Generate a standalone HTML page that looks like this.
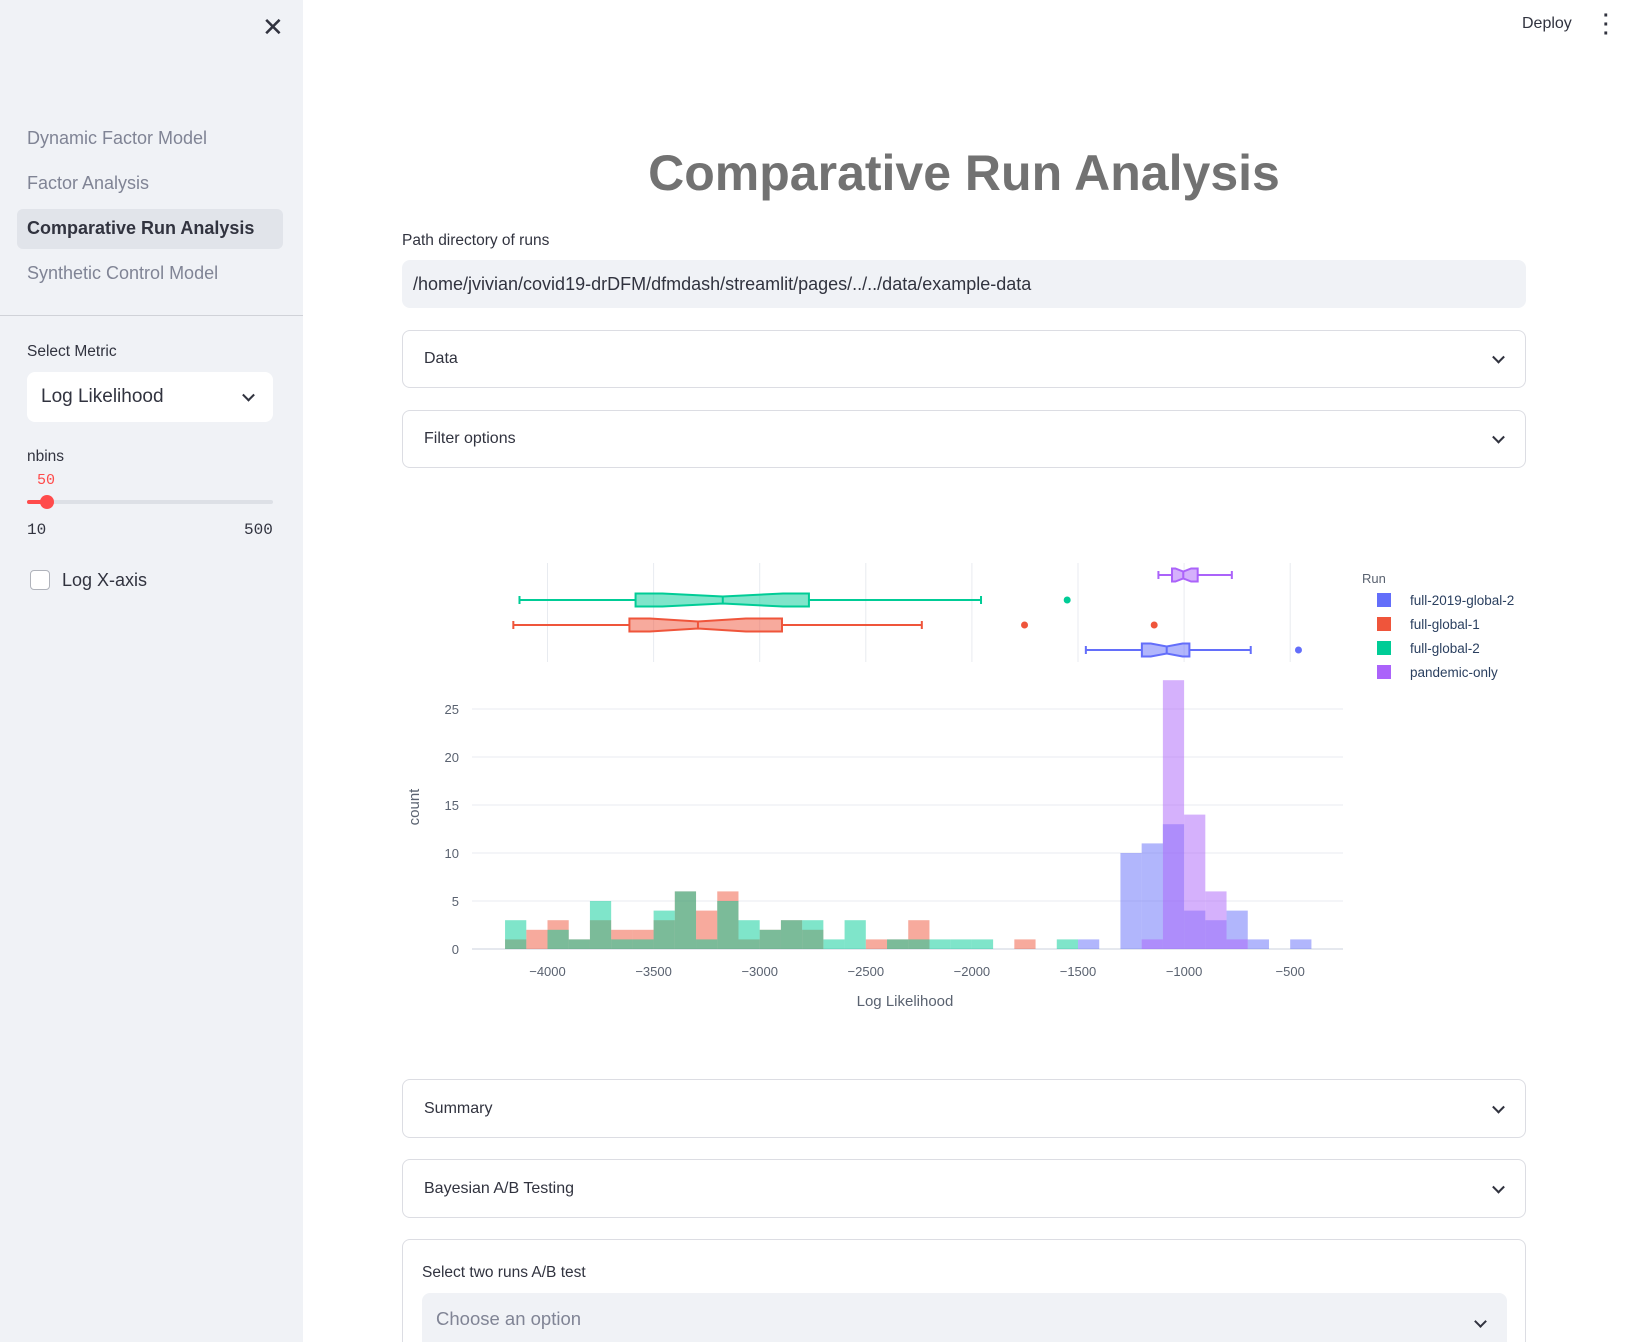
<!DOCTYPE html>
<html><head><meta charset="utf-8"><style>
*{box-sizing:border-box;margin:0;padding:0}
html,body{width:1631px;height:1342px;overflow:hidden}
body{background:#fff;font-family:"Liberation Sans",sans-serif;color:#31333f;position:relative}
.abs{position:absolute}
.sb{left:0;top:0;width:303px;height:1342px;background:#f0f2f6}
.nav{left:27px;font-size:18px;color:#808495}
.exp{left:402px;width:1124px;border:1px solid #dcdde3;border-radius:8px;font-size:16px;padding-left:21px;display:flex;align-items:center}
.chev{position:absolute;right:22px;top:50%;width:9px;height:9px;border-right:2px solid #31333f;border-bottom:2px solid #31333f;transform:translateY(-70%) rotate(45deg)}
</style></head><body>
<div class="abs sb">
 <div class="abs" style="left:262px;top:12px;font-size:26px;color:#31333f">✕</div>
 <div class="abs nav" style="top:128px">Dynamic Factor Model</div>
 <div class="abs nav" style="top:173px">Factor Analysis</div>
 <div class="abs" style="left:17px;top:209px;width:266px;height:40px;background:#e1e4ea;border-radius:6px;font-size:18px;font-weight:bold;padding:9px 0 0 10px;color:#31333f">Comparative Run Analysis</div>
 <div class="abs nav" style="top:263px">Synthetic Control Model</div>
 <div class="abs" style="left:0;top:315px;width:303px;height:1px;background:#d0d2d8"></div>
 <div class="abs" style="left:27px;top:343px;font-size:15.5px">Select Metric</div>
 <div class="abs" style="left:27px;top:372px;width:246px;height:50px;background:#fff;border-radius:8px;font-size:19px;padding:14px 0 0 14px">Log Likelihood<span class="chev" style="right:20px"></span></div>
 <div class="abs" style="left:27px;top:448px;font-size:15.5px">nbins</div>
 <div class="abs" style="left:37px;top:472px;font-size:15px;color:#ff4b4b;font-family:'Liberation Mono',monospace">50</div>
 <div class="abs" style="left:27px;top:500px;width:246px;height:4px;background:#dde0e6;border-radius:2px"></div>
 <div class="abs" style="left:27px;top:500px;width:20px;height:4px;background:#ff4b4b;border-radius:2px"></div>
 <div class="abs" style="left:40px;top:495px;width:14px;height:14px;background:#ff4b4b;border-radius:50%"></div>
 <div class="abs" style="left:27px;top:521px;font-size:16px;font-family:'Liberation Mono',monospace">10</div>
 <div class="abs" style="left:244px;top:521px;font-size:16px;font-family:'Liberation Mono',monospace">500</div>
 <div class="abs" style="left:30px;top:570px;width:20px;height:20px;border:1px solid #b0b3bb;border-radius:4px;background:#fff"></div>
 <div class="abs" style="left:62px;top:570px;font-size:18px">Log X-axis</div>
</div>
<div class="abs" style="left:1522px;top:15px;font-size:16px">Deploy</div>
<div class="abs" style="left:1603px;top:12px;font-size:20px;font-weight:bold;line-height:9px">·<br>·<br>·</div>
<div class="abs" style="left:402px;width:1124px;top:144px;text-align:center;font-size:50px;font-weight:bold;color:#727272">Comparative Run Analysis</div>
<div class="abs" style="left:402px;top:232px;font-size:15.5px">Path directory of runs</div>
<div class="abs" style="left:402px;top:260px;width:1124px;height:48px;background:#f0f2f6;border-radius:8px;font-size:18px;padding:14px 0 0 11px">/home/jvivian/covid19-drDFM/dfmdash/streamlit/pages/../../data/example-data</div>
<div class="abs exp" style="top:330px;height:58px">Data<span class="chev"></span></div>
<div class="abs exp" style="top:410px;height:58px">Filter options<span class="chev"></span></div>
<div class="abs exp" style="top:1079px;height:59px">Summary<span class="chev"></span></div>
<div class="abs exp" style="top:1159px;height:59px">Bayesian A/B Testing<span class="chev"></span></div>
<div class="abs" style="left:402px;top:1239px;width:1124px;height:103px;border:1px solid #dcdde3;border-bottom:none;border-radius:8px 8px 0 0"></div>
<div class="abs" style="left:422px;top:1264px;font-size:15.5px">Select two runs A/B test</div>
<div class="abs" style="left:422px;top:1293px;width:1085px;height:49px;background:#f0f2f6;border-radius:8px 8px 0 0;font-size:18.5px;color:#808495;padding:15px 0 0 14px">Choose an option<span class="chev" style="top:24px;transform:rotate(45deg)"></span></div>
<svg class="abs" id="chart" style="left:0;top:0" width="1631" height="1342" font-family="Liberation Sans, sans-serif"></svg>
<script>
const runs=["full-2019-global-2","full-global-1","full-global-2","pandemic-only"];
const colors=["#636efa","#EF553B","#00cc96","#ab63fa"];
const binStart=-4200, binWidth=100;
const countsBlue={"-1500":1,"-1300":10,"-1200":11,"-1100":13,"-1000":4,"-900":3,"-800":4,"-700":1,"-500":1};
const countsRed={"-4200":1,"-4100":2,"-4000":3,"-3900":1,"-3800":3,"-3700":2,"-3600":2,"-3500":3,"-3400":6,"-3300":4,"-3200":6,"-3100":1,"-3000":2,"-2900":3,"-2800":2,"-2500":1,"-2400":1,"-2300":3,"-1800":1};
const countsTeal={"-4200":3,"-4000":2,"-3900":1,"-3800":5,"-3700":1,"-3600":1,"-3500":4,"-3400":6,"-3300":1,"-3200":5,"-3100":3,"-3000":2,"-2900":3,"-2800":3,"-2700":1,"-2600":3,"-2400":1,"-2300":1,"-2200":1,"-2100":1,"-2000":1,"-1600":1};
const countsPurple={"-1200":1,"-1100":28,"-1000":14,"-900":6,"-800":1};
const boxBlue=[-1463,-1199,-1082,-975,-686], outBlue=[-461];
const boxRed=[-4161,-3614,-3291,-2895,-2236], outRed=[-1752,-1141];
const boxTeal=[-4132,-3585,-3174,-2768,-1957], outTeal=[-1551];
const boxPurple=[-1121,-1057,-1004,-936,-775], outPurple=[];
const xTicks=[-4000,-3500,-3000,-2500,-2000,-1500,-1000,-500];
const yTicks=[0,5,10,15,20,25];
const svg=document.getElementById('chart');const NS="http://www.w3.org/2000/svg";
function x(v){return 547.5+(v+4000)*0.2122;}
function y(c){return 949-c*9.6;}
function mk(t,a,p){const e=document.createElementNS(NS,t);for(const k in a)e.setAttribute(k,a[k]);(p||svg).appendChild(e);return e;}
yTicks.forEach(t=>{const g=mk('line',{x1:472,x2:1343,y1:y(t),y2:y(t),stroke:t===0?'#e5e8ee':'#e8ebf0','stroke-width':t===0?2:1});


const l=mk('text',{x:459,y:y(t)+5,'text-anchor':'end','font-size':13,fill:'#5a6270'});l.textContent=t;

});
xTicks.forEach(t=>{const g=mk('line',{x1:x(t),x2:x(t),y1:563,y2:662,stroke:'#e8ebf0'});


const l=mk('text',{x:x(t),y:976,'text-anchor':'middle','font-size':13,fill:'#5a6270'});l.textContent=String(t).replace('-','−');

});
[countsBlue,countsRed,countsTeal,countsPurple].forEach((cs,i)=>{for(const k in cs){const b=+k;
const r=mk('rect',{x:x(b),width:x(b+binWidth)-x(b),y:y(cs[k]),height:y(0)-y(cs[k]),fill:colors[i],'fill-opacity':0.5});

}});
const boxes=[boxBlue,boxRed,boxTeal,boxPurple],outs=[outBlue,outRed,outTeal,outPurple],rowY=[650,625,600,575];
boxes.forEach((b,i)=>{const cy=rowY[i],h=6.5,n=3.5,c=colors[i];
const wl=mk('path',{d:`M${x(b[0])},${cy}H${x(b[1])}M${x(b[3])},${cy}H${x(b[4])}M${x(b[0])},${cy-4}V${cy+4}M${x(b[4])},${cy-4}V${cy+4}`,stroke:c,'stroke-width':2,fill:'none'});


const q1=x(b[1]),m=x(b[2]),q3=x(b[3]),nw=Math.min((m-q1)*0.7,(q3-m)*0.7);
const p=mk('path',{d:`M${q1},${cy-h}H${m-nw}L${m},${cy-n}L${m+nw},${cy-h}H${q3}V${cy+h}H${m+nw}L${m},${cy+n}L${m-nw},${cy+h}H${q1}Z M${m},${cy-n}V${cy+n}`,stroke:c,'stroke-width':2,fill:c,'fill-opacity':0.5});


outs[i].forEach(o=>{const d=mk('circle',{cx:x(o),cy:cy,r:3.5,fill:c});

});});
const xt=mk('text',{x:905,y:1006,'text-anchor':'middle','font-size':15,fill:'#5a6270'});xt.textContent='Log Likelihood';


const yt=mk('text',{x:419,y:807,'text-anchor':'middle','font-size':15,fill:'#5a6270',transform:'rotate(-90 419 807)'});yt.textContent='count';


const lt=mk('text',{x:1362,y:583,'font-size':13,fill:'#5a6270'});lt.textContent='Run';


runs.forEach((r,i)=>{const yy=600+i*24;
const s=mk('rect',{x:1377,y:yy-7,width:14,height:14,fill:colors[i]});


const t=mk('text',{x:1410,y:yy+5,'font-size':13.5,fill:'#2a3f5f'});t.textContent=r;

});
</script>
</body></html>
